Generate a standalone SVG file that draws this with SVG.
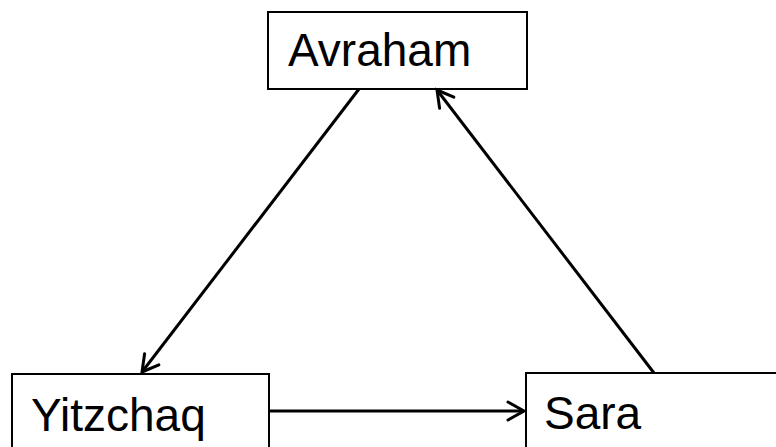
<svg xmlns="http://www.w3.org/2000/svg" width="776" height="447" viewBox="0 0 776 447">
<style>
.box{fill:#fff;stroke:#000;stroke-width:2}
.lbl{font-family:"Liberation Sans",Arial,sans-serif;font-size:46px;fill:#000}
.edge{stroke:#000;stroke-width:3;fill:none;marker-end:url(#ah)}
</style>
<defs>
<marker id="ah" markerUnits="userSpaceOnUse" markerWidth="30" markerHeight="30" viewBox="-20 -15 30 30" refX="0" refY="0" orient="auto">
<path d="M-16,-9 L0,0 L-16,9" fill="none" stroke="#000" stroke-width="3" stroke-linecap="round" stroke-linejoin="miter"/>
</marker>
</defs>
<rect width="776" height="447" fill="#fff"/>
<g id="avraham"><rect class="box" x="268" y="12" width="259" height="77"/><text class="lbl" x="288" y="66">Avraham</text></g>
<g id="yitzchaq"><rect class="box" x="12" y="374" width="257" height="90"/><text class="lbl" x="31" y="431">Yitzchaq</text></g>
<g id="sara"><rect class="box" x="526" y="373" width="270" height="90"/><text class="lbl" x="544" y="429">Sara</text></g>
<g id="connectors">
<line class="edge" x1="359" y1="89" x2="142" y2="372"/>
<line class="edge" x1="654" y1="373" x2="437" y2="90"/>
<line class="edge" x1="269" y1="411" x2="524" y2="411"/>
</g>
</svg>
